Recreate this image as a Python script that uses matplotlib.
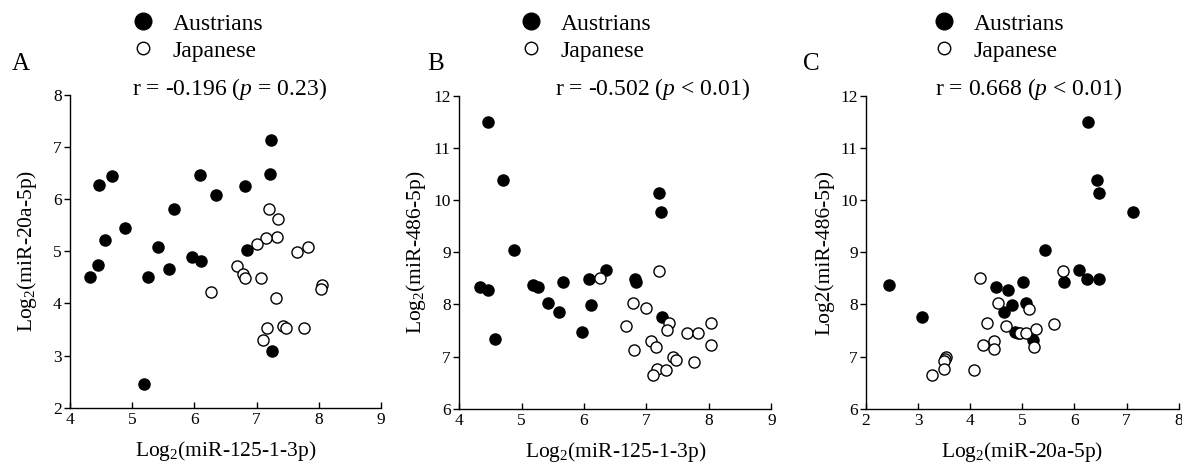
import matplotlib
matplotlib.use("Agg")
import matplotlib.pyplot as plt
from matplotlib.lines import Line2D

plt.rcParams['font.family'] = ['Liberation Serif', 'DejaVu Serif']
plt.rcParams['mathtext.fontset'] = 'custom'
plt.rcParams['mathtext.rm'] = 'Liberation Serif'
plt.rcParams['mathtext.it'] = 'Liberation Serif:italic'

# panel A: miR-125-1-3p vs miR-20a-5p
a_aus_x = [7.23, 7.21, 4.47, 4.68, 6.09, 6.34, 6.82, 5.67, 4.88, 4.57,
           5.41, 6.84, 5.96, 6.11, 4.45, 5.59, 4.32, 5.26, 7.24, 5.19]
a_aus_y = [7.13, 6.48, 6.27, 6.44, 6.47, 6.09, 6.25, 5.81, 5.45, 5.21,
           5.08, 5.03, 4.89, 4.81, 4.73, 4.67, 4.51, 4.51, 3.09, 2.45]
a_jap_x = [7.20, 7.35, 7.32, 7.15, 7.00, 7.83, 7.65, 6.68, 6.78, 6.81,
           7.07, 6.26, 8.05, 8.03, 7.31, 7.17, 7.42, 7.48, 7.76, 7.10]
a_jap_y = [5.81, 5.63, 5.27, 5.26, 5.14, 5.08, 4.98, 4.72, 4.56, 4.49,
           4.48, 4.22, 4.35, 4.27, 4.10, 3.52, 3.56, 3.53, 3.52, 3.30]

# panel B: miR-125-1-3p vs miR-486-5p
b_aus_x = [4.47, 4.70, 4.88, 7.20, 7.23, 4.33, 4.46, 5.18, 5.27, 5.67,
           6.35, 6.08, 6.82, 6.83, 5.42, 5.60, 6.11, 5.96, 4.58, 7.25]
b_aus_y = [11.50, 10.39, 9.04, 10.14, 9.77, 8.33, 8.28, 8.38, 8.34, 8.42,
           8.65, 8.48, 8.49, 8.43, 8.02, 7.86, 7.99, 7.47, 7.33, 7.75]
b_jap_x = [7.20, 6.26, 6.78, 7.00, 6.67, 7.36, 7.32, 7.65, 7.82, 8.04,
           8.03, 7.07, 7.15, 6.80, 7.42, 7.47, 7.76, 7.17, 7.31, 7.11]
b_jap_y = [8.64, 8.50, 8.02, 7.93, 7.59, 7.64, 7.51, 7.46, 7.46, 7.65,
           7.23, 7.30, 7.19, 7.13, 6.99, 6.94, 6.90, 6.77, 6.74, 6.65]

# panel C: miR-20a-5p vs miR-486-5p
c_aus_x = [6.26, 6.43, 6.48, 7.12, 5.44, 2.44, 3.07, 4.50, 4.73, 5.02,
           4.80, 4.65, 5.07, 4.86, 4.91, 5.21, 6.08, 6.24, 6.47, 5.80]
c_aus_y = [11.50, 10.39, 10.13, 9.77, 9.04, 8.38, 7.75, 8.33, 8.28, 8.43,
           7.99, 7.86, 8.02, 7.47, 7.46, 7.32, 8.66, 8.49, 8.49, 8.42]
c_jap_x = [5.78, 4.19, 4.54, 5.12, 4.32, 4.69, 5.61, 4.96, 5.07, 5.26,
           5.22, 4.46, 4.46, 4.24, 3.54, 3.52, 3.49, 3.49, 3.27, 4.07]
c_jap_y = [8.64, 8.50, 8.02, 7.92, 7.64, 7.58, 7.63, 7.46, 7.46, 7.52,
           7.19, 7.30, 7.14, 7.23, 7.00, 6.96, 6.91, 6.77, 6.65, 6.74]

letters = ['A', 'B', 'C']
r_texts = [r'r = -0.196 ($\mathit{p}$ = 0.23)',
           r'r = -0.502 ($\mathit{p}$ < 0.01)',
           r'r = 0.668 ($\mathit{p}$ < 0.01)']
xlabels = [r'Log$_{\mathrm{2}}$(miR-125-1-3p)', r'Log$_{\mathrm{2}}$(miR-125-1-3p)',
           r'Log$_{\mathrm{2}}$(miR-20a-5p)']
ylabels = [r'Log$_{\mathrm{2}}$(miR-20a-5p)', r'Log$_{\mathrm{2}}$(miR-486-5p)',
           'Log2(miR-486-5p)']
xlims = [(4, 9), (4, 9), (2, 8)]
ylims = [(2, 8), (6, 12), (6, 12)]

data = [(a_aus_x, a_aus_y, a_jap_x, a_jap_y),
        (b_aus_x, b_aus_y, b_jap_x, b_jap_y),
        (c_aus_x, c_aus_y, c_jap_x, c_jap_y)]

W, H = 1182, 466
fig = plt.figure(figsize=(W / 100, H / 100), dpi=100)

# axes boxes in pixels: left, right, bottom, top
boxes = [(70, 381, 407.7, 95), (459, 771.5, 408.7, 95.7), (866, 1178.7, 408.7, 95.7)]
letter_x = [12, 427, 803]
legend_x = [131, 519, 932]
rtext_x = [132, 555, 935]
ylabel_pad = [10, 4, 4]

for i, (l, r, b, t) in enumerate(boxes):
    ax = fig.add_axes([l / W, 1 - b / H, (r - l) / W, (b - t) / H])
    ax_x, ax_y, jx, jy = data[i]
    ax.plot(ax_x, ax_y, 'o', color='black', markersize=8, linestyle='none', zorder=3)
    ax.plot(jx, jy, 'o', markerfacecolor='white', markeredgecolor='black',
            markeredgewidth=1.0, markersize=8, linestyle='none', zorder=3)
    ax.set_xlim(*xlims[i])
    ax.set_ylim(*ylims[i])
    ax.set_xticks(range(xlims[i][0], xlims[i][1] + 1))
    ax.set_yticks(range(ylims[i][0], ylims[i][1] + 1))
    ax.spines['top'].set_visible(False)
    ax.spines['right'].set_visible(False)
    for s in ('left', 'bottom'):
        ax.spines[s].set_linewidth(1.0)
    ax.tick_params(axis='x', direction='in', length=4, width=1.0, labelsize=12.5, pad=3)
    ax.tick_params(axis='y', direction='out', length=4, width=1.0, labelsize=12.5, pad=2)
    ax.set_xlabel(xlabels[i], fontsize=15.5, labelpad=8)
    ax.set_ylabel(ylabels[i], fontsize=15.5, labelpad=ylabel_pad[i])
    ax.patch.set_alpha(0)

    fig.text(letter_x[i] / W, 1 - 64 / H, letters[i], fontsize=18, ha='left', va='center')
    fig.text(rtext_x[i] / W, 1 - 89 / H, r_texts[i], fontsize=17, ha='left', va='center')

    handles = [Line2D([], [], marker='o', color='black', linestyle='none', markersize=12),
               Line2D([], [], marker='o', markerfacecolor='white', markeredgecolor='black',
                      markeredgewidth=1.0, linestyle='none', markersize=9)]
    fig.legend(handles, ['Austrians', 'Japanese'], loc='upper left',
               bbox_to_anchor=(legend_x[i] / W, 1 - 13 / H), frameon=False,
               fontsize=17, borderpad=0, borderaxespad=0, handlelength=1.0,
               handletextpad=0.75, labelspacing=0.24)

fig.savefig('out.png', dpi=100)
